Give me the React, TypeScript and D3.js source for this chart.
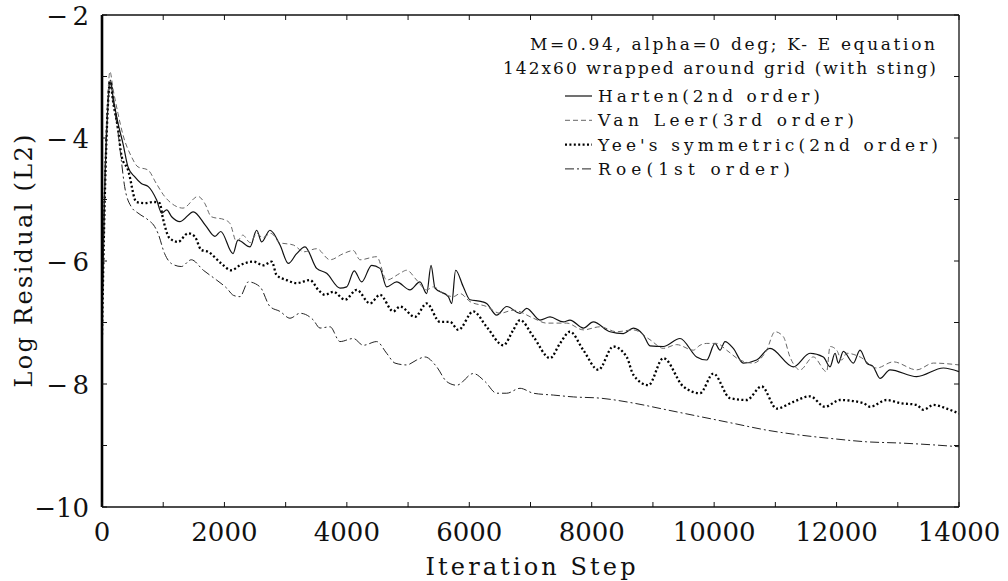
import React from "react";
import * as d3 from "d3";

type P = [number, number];

const hartenData: P[] = [
  [0, -7.0], [40, -5.0], [90, -3.6], [135, -3.06], [180, -3.33], [261, -3.76], [343, -4.09], [425, -4.47],
  [533, -4.63], [642, -4.74], [757, -4.79], [893, -5.01], [975, -5.22], [1057, -5.17], [1138, -5.28],
  [1274, -5.36], [1492, -5.2], [1690, -5.42], [1846, -5.6], [1940, -5.52], [2140, -5.88], [2220, -5.66],
  [2418, -5.77], [2527, -5.5], [2608, -5.69], [2744, -5.5], [2908, -5.74], [3044, -6.04], [3180, -5.88],
  [3316, -5.77], [3507, -6.12], [3670, -6.2], [3888, -6.44], [3997, -6.42], [4120, -6.16], [4242, -6.34],
  [4405, -6.07], [4541, -6.12], [4650, -6.42], [4813, -6.34], [5031, -6.47], [5194, -6.34], [5304, -6.53],
  [5375, -6.07], [5440, -6.44], [5658, -6.58], [5712, -6.69], [5777, -6.15], [5902, -6.42], [6012, -6.63],
  [6203, -6.66], [6283, -6.69], [6447, -6.88], [6611, -6.74], [6829, -6.85], [6938, -6.77], [7155, -6.96],
  [7319, -6.91], [7537, -6.99], [7645, -6.96], [7863, -7.09], [8026, -6.99], [8299, -7.15], [8517, -7.18],
  [8680, -7.09], [8843, -7.2], [8952, -7.38], [9170, -7.39], [9442, -7.26], [9714, -7.56], [9878, -7.61],
  [10014, -7.34], [10096, -7.45], [10177, -7.31], [10313, -7.42], [10476, -7.66], [10694, -7.61],
  [10912, -7.42], [11294, -7.72], [11566, -7.5], [11784, -7.56], [11893, -7.72], [11975, -7.5],
  [12029, -7.66], [12111, -7.47], [12274, -7.66], [12383, -7.45], [12492, -7.66], [12601, -7.72],
  [12710, -7.91], [12873, -7.77], [13309, -7.88], [13745, -7.74], [14000, -7.8],
];

const vanLeerData: P[] = [
  [0, -6.8], [40, -4.8], [90, -3.4], [130, -2.92], [180, -3.2], [261, -3.6], [343, -3.95], [479, -4.3],
  [588, -4.47], [751, -4.52], [887, -4.74], [1023, -4.95], [1132, -5.06], [1323, -5.14], [1568, -4.95],
  [1677, -5.06], [1786, -5.28], [2004, -5.33], [2091, -5.39], [2200, -5.69], [2300, -5.58], [2420, -5.7],
  [2530, -5.55], [2620, -5.62], [2760, -5.55], [2900, -5.7], [3126, -5.74], [3300, -5.85], [3507, -5.8],
  [3725, -5.98], [3943, -5.88], [4106, -5.83], [4215, -5.98], [4487, -5.93], [4650, -6.31], [4868, -6.2],
  [4977, -6.15], [5140, -6.31], [5304, -6.47], [5412, -6.42], [5576, -6.53], [5739, -6.58], [5848, -6.53],
  [6012, -6.66], [6283, -6.74], [6502, -6.85], [6720, -6.8], [7047, -6.93], [7264, -7.01], [7591, -7.01],
  [7863, -7.12], [8135, -7.07], [8407, -7.15], [8680, -7.12], [8952, -7.28], [9170, -7.42], [9388, -7.36],
  [9660, -7.45], [9769, -7.37], [9878, -7.34], [10041, -7.34], [10204, -7.45], [10422, -7.61],
  [10640, -7.66], [10857, -7.45], [10994, -7.15], [11130, -7.23], [11239, -7.56], [11403, -7.77],
  [11620, -7.56], [11838, -7.8], [11893, -7.39], [12002, -7.45], [12084, -7.61], [12165, -7.5],
  [12383, -7.56], [12655, -7.74], [12927, -7.64], [13309, -7.77], [13581, -7.66], [14000, -7.69],
];

const yeeData: P[] = [
  [0, -7.2], [40, -5.2], [90, -3.6], [135, -3.08], [180, -3.4], [261, -3.85], [321, -4.3], [425, -4.52],
  [561, -5.04], [697, -5.06], [833, -5.04], [942, -5.06], [996, -5.31], [1105, -5.63], [1241, -5.69],
  [1405, -5.55], [1514, -5.6], [1622, -5.82], [1731, -5.85], [1949, -6.04], [2112, -6.15], [2254, -6.07],
  [2472, -6.01], [2635, -6.07], [2772, -6.01], [2853, -6.23], [3017, -6.31], [3180, -6.36], [3398, -6.31],
  [3534, -6.47], [3643, -6.55], [3779, -6.5], [3970, -6.63], [4160, -6.47], [4378, -6.69], [4541, -6.55],
  [4759, -6.82], [4868, -6.74], [5113, -6.91], [5304, -6.69], [5521, -6.99], [5685, -6.99], [5821, -7.12],
  [6066, -6.82], [6283, -7.07], [6556, -7.37], [6720, -7.12], [6829, -6.96], [7047, -7.23], [7319, -7.58],
  [7482, -7.34], [7645, -7.15], [7863, -7.45], [8108, -7.77], [8353, -7.39], [8571, -7.56], [8680, -7.85],
  [8925, -8.02], [9170, -7.58], [9496, -8.04], [9769, -8.15], [9987, -7.83], [10259, -8.23], [10531, -8.26],
  [10776, -8.04], [11021, -8.4], [11294, -8.29], [11566, -8.2], [11811, -8.37], [12056, -8.26],
  [12437, -8.31], [12546, -8.37], [12818, -8.26], [13036, -8.31], [13309, -8.34], [13418, -8.42],
  [13581, -8.34], [13799, -8.4], [14000, -8.48],
];

const roeData: P[] = [
  [0, -7.0], [40, -5.0], [90, -3.6], [135, -3.1], [180, -3.4], [261, -3.9], [315, -4.36], [370, -4.79],
  [479, -5.12], [588, -5.22], [751, -5.33], [860, -5.44], [915, -5.55], [1023, -5.88], [1132, -6.04],
  [1296, -6.09], [1459, -5.98], [1655, -6.15], [1873, -6.31], [2036, -6.44], [2150, -6.56], [2254, -6.58],
  [2390, -6.34], [2581, -6.42], [2744, -6.74], [2908, -6.82], [3071, -6.93], [3235, -6.85], [3453, -6.96],
  [3561, -7.09], [3725, -7.07], [3888, -7.31], [4106, -7.26], [4269, -7.37], [4487, -7.31], [4650, -7.5],
  [4786, -7.66], [4977, -7.69], [5140, -7.61], [5277, -7.56], [5467, -7.72], [5630, -7.96], [5794, -8.02],
  [6066, -7.83], [6257, -7.96], [6447, -8.15], [6611, -8.15], [6829, -8.07], [7047, -8.15], [7373, -8.18],
  [7700, -8.21], [8135, -8.23], [8680, -8.31], [9224, -8.42], [9769, -8.53], [10313, -8.64],
  [10857, -8.75], [11403, -8.83], [11947, -8.89], [12492, -8.94], [13036, -8.96], [13581, -8.99],
  [14000, -9.02],
];

const xTickLabels = [0, 2000, 4000, 6000, 8000, 10000, 12000, 14000];
const yTickLabels = [-2, -4, -6, -8, -10];
const xMinorTicks = d3.range(0, 14001, 1000);
const yMinorTicks = d3.range(-10, -1.99, 1);

const titleLines = ["M=0.94, alpha=0 deg; K- E equation", "142x60 wrapped around grid (with sting)"];
const seriesNames = ["Harten(2nd order)", "Van Leer(3rd order)", "Yee's symmetric(2nd order)", "Roe(1st order)"];

const W = 1008;
const H = 581;
const plot = { left: 102, right: 959, top: 15, bottom: 507 };
const FONT = "DejaVu Serif, serif";

export default function App() {
  const x = d3.scaleLinear().domain([0, 14000]).range([plot.left, plot.right]);
  const y = d3.scaleLinear().domain([-10, -2]).range([plot.bottom, plot.top]);
  const line = d3
    .line<P>()
    .x((d) => x(d[0]))
    .y((d) => y(d[1]))
    .curve(d3.curveMonotoneX);

  const series = [
    { name: seriesNames[0], data: hartenData, stroke: "#111", width: 1.2, dash: "none", textW: 222 },
    { name: seriesNames[1], data: vanLeerData, stroke: "#666", width: 1, dash: "5,3", textW: 256 },
    { name: seriesNames[2], data: yeeData, stroke: "#000", width: 2.3, dash: "2,2.4", textW: 340 },
    { name: seriesNames[3], data: roeData, stroke: "#222", width: 1, dash: "9,3,2,3", textW: 192 },
  ];

  const txt = { fontFamily: FONT, fontWeight: 300 as const };

  return (
    <svg width={W} height={H} style={{ position: "fixed", left: 0, top: 0, background: "#fff", fontFamily: FONT }}>
      <rect x={0} y={0} width={W} height={H} fill="#fff" />
      <defs>
        <clipPath id="plotClip">
          <rect x={plot.left} y={plot.top - 10} width={plot.right - plot.left} height={plot.bottom - plot.top + 10} />
        </clipPath>
      </defs>

      <g clipPath="url(#plotClip)">
        {series.map((s, i) => (
          <path
            key={i}
            d={line(s.data) || ""}
            fill="none"
            stroke={s.stroke}
            strokeWidth={s.width}
            strokeDasharray={s.dash}
            strokeLinejoin="round"
          />
        ))}
      </g>

      <line x1={plot.left} x2={plot.right} y1={plot.top} y2={plot.top} stroke="#111" strokeWidth={1.5} />
      <line x1={plot.left} x2={plot.right} y1={plot.bottom} y2={plot.bottom} stroke="#111" strokeWidth={1.5} />
      <line x1={plot.right} x2={plot.right} y1={plot.top} y2={plot.bottom} stroke="#111" strokeWidth={1.3} />
      <line x1={plot.left} x2={plot.left} y1={plot.top} y2={plot.bottom} stroke="#000" strokeWidth={2.6} />

      {xMinorTicks.map((t) => (
        <g key={"xt" + t}>
          <line x1={x(t)} x2={x(t)} y1={plot.bottom} y2={plot.bottom - 5} stroke="#111" strokeWidth={1} />
          <line x1={x(t)} x2={x(t)} y1={plot.top} y2={plot.top + 5} stroke="#111" strokeWidth={1} />
        </g>
      ))}
      {yMinorTicks.map((t) => (
        <g key={"yt" + t}>
          <line x1={plot.left} x2={plot.left + 5} y1={y(t)} y2={y(t)} stroke="#111" strokeWidth={1} />
          <line x1={plot.right} x2={plot.right - 5} y1={y(t)} y2={y(t)} stroke="#111" strokeWidth={1} />
        </g>
      ))}

      {xTickLabels.map((t) => (
        <text key={"xl" + t} x={x(t)} y={541} fontSize={26} textAnchor="middle" fill="#111" style={txt}>
          {t}
        </text>
      ))}
      {yTickLabels.map((t) => (
        <g key={"yl" + t}>
          <text x={89} y={y(t) + 10} fontSize={26} textAnchor="end" fill="#111" style={txt}>
            {Math.abs(t)}
          </text>
          <text x={Math.abs(t) >= 10 ? 56 : 68} y={y(t) + 10} fontSize={26} textAnchor="end" fill="#111" style={txt}>
            {"\u2212"}
          </text>
        </g>
      ))}

      <text
        x={(plot.left + plot.right) / 2}
        y={575}
        fontSize={24}
        textAnchor="middle"
        textLength={210}
        lengthAdjust="spacing"
        fill="#111"
        style={txt}
      >
        Iteration Step
      </text>
      <text
        transform={`translate(32, ${(plot.top + plot.bottom) / 2}) rotate(-90)`}
        fontSize={24}
        textAnchor="middle"
        textLength={253}
        lengthAdjust="spacing"
        fill="#111"
        style={txt}
      >
        Log Residual (L2)
      </text>

      <text x={935} y={50} fontSize={17} textAnchor="end" textLength={405} lengthAdjust="spacing" fill="#111" style={txt}>
        {titleLines[0]}
      </text>
      <text x={936} y={74} fontSize={17} textAnchor="end" textLength={433} lengthAdjust="spacing" fill="#111" style={txt}>
        {titleLines[1]}
      </text>
      {series.map((s, i) => {
        const by = 102 + i * 24.3;
        return (
          <g key={"lg" + i}>
            <line x1={565} x2={592} y1={by - 6} y2={by - 6} stroke={s.stroke} strokeWidth={s.width} strokeDasharray={s.dash} />
            <text x={598} y={by} fontSize={17} textLength={s.textW} lengthAdjust="spacing" fill="#111" style={txt}>
              {s.name}
            </text>
          </g>
        );
      })}
    </svg>
  );
}
